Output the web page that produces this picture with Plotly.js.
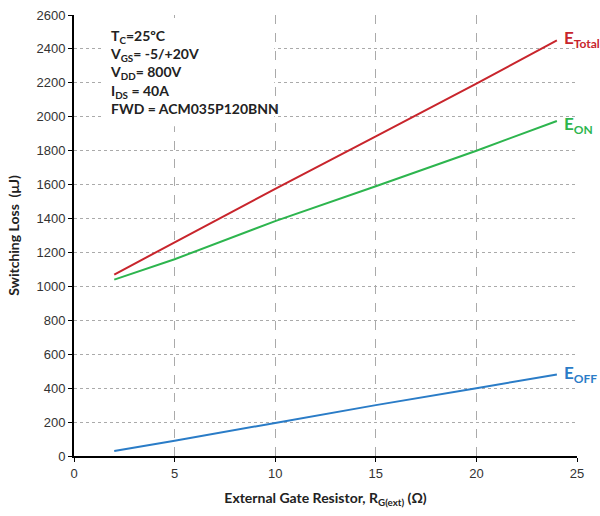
<!DOCTYPE html>
<html>
<head>
<meta charset="utf-8">
<script src="https://cdn.plot.ly/plotly-3.0.1.min.js"></script>
<style>html,body{margin:0;padding:0;background:#fff;}#chart{width:600px;height:516px;}</style>
</head>
<body>
<div id="chart"></div>
<script>
const rg = [2, 5, 10, 15, 20, 24];
const eTotal = [1070, 1260, 1575, 1885, 2195, 2450];
const eOn = [1040, 1160, 1385, 1590, 1800, 1975];
const eOff = [30, 90, 195, 300, 400, 480];
const seriesSubs = ['Total', 'ON', 'OFF'];
const colors = ['#C8252C', '#2DB54E', '#2A7CC7'];
const conditions = ['T<sub>C</sub>=25ºC', 'V<sub>GS</sub>= -5/+20V', 'V<sub>DD</sub>= 800V', 'I<sub>DS</sub> = 40A', 'FWD = ACM035P120BNN'];

const series = [eTotal, eOn, eOff];
const traces = series.map((ys, i) => ({
  x: rg, y: ys, type: 'scatter', mode: 'lines',
  line: {color: colors[i], width: 2}, name: 'E' + seriesSubs[i], hoverinfo: 'none'
}));

const labelFont = 'Lato, "Open Sans", sans-serif';
const yShifts = [1, -4, 1];
const annotations = series.map((ys, i) => ({
  x: rg[rg.length - 1], y: ys[ys.length - 1], xref: 'x', yref: 'y',
  text: '<b>E<sub><span style="font-size:12px">' + seriesSubs[i] + '</span></sub></b>', showarrow: false,
  xanchor: 'left', yanchor: 'middle', xshift: 5, yshift: yShifts[i],
  font: {family: labelFont, size: 17, color: colors[i]}
}));
annotations.push({
  x: 0.0696, y: 0.976, xref: 'paper', yref: 'paper', xanchor: 'left', yanchor: 'top',
  text: '<b>' + conditions.join('<br>') + '</b>', showarrow: false, align: 'left',
  borderpad: 0,
  font: {family: labelFont, size: 14, color: '#222'}
});

const layout = {
  width: 600, height: 516,
  margin: {l: 74, r: 23, t: 15, b: 60},
  paper_bgcolor: '#fff', plot_bgcolor: '#fff',
  showlegend: false,
  font: {family: '"Liberation Sans", Arial, sans-serif', size: 13, color: '#333'},
  xaxis: {
    range: [0, 25], dtick: 5, tick0: 0,
    showgrid: true, gridcolor: '#aaaaaa', griddash: 'dash', gridwidth: 1,
    showline: true, linecolor: '#000', linewidth: 2,
    ticks: 'outside', ticklen: 4, tickcolor: '#000',
    zeroline: false,
    title: {text: '<b>External Gate Resistor, R<sub>G(ext)</sub> (Ω)</b>', font: {family: labelFont, size: 14, color: '#222'}, standoff: 14}
  },
  yaxis: {
    range: [0, 2600], dtick: 200, tick0: 0,
    showgrid: true, gridcolor: '#aaaaaa', griddash: 'dot', gridwidth: 1,
    showline: true, linecolor: '#000', linewidth: 2,
    ticks: 'outside', ticklen: 4, tickcolor: '#000',
    zeroline: false,
    title: {text: '<b>Switching Loss  (μJ)</b>', font: {family: labelFont, size: 14, color: '#222'}, standoff: 14}
  },
  shapes: [{
    type: 'rect', xref: 'paper', yref: 'paper', layer: 'above',
    x0: 0.0577, x1: 0.398, y0: 0.748, y1: 0.993,
    fillcolor: '#ffffff', line: {width: 0}
  }],
  annotations: annotations
};

Plotly.newPlot('chart', traces, layout, {displayModeBar: false, staticPlot: true});
</script>
</body>
</html>
